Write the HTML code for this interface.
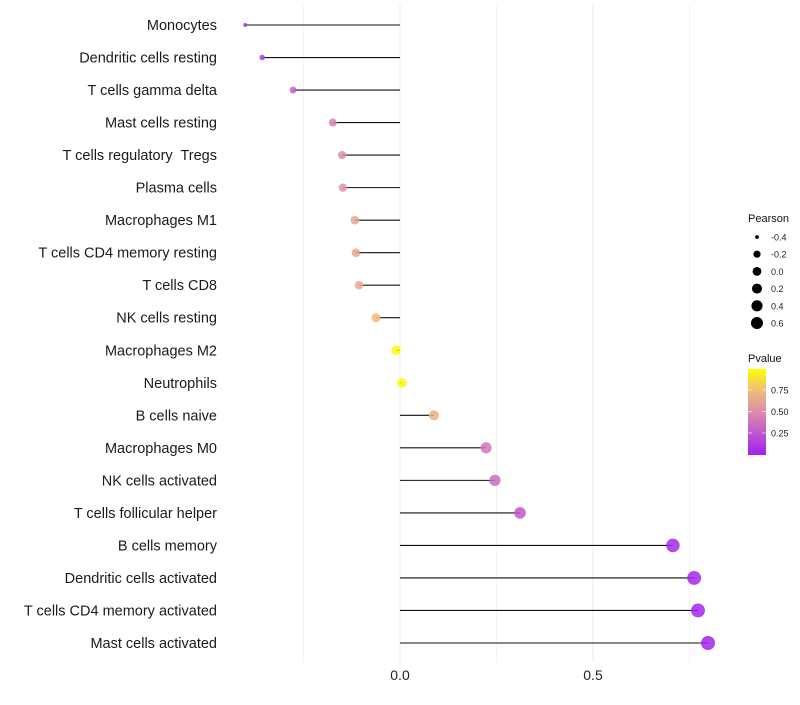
<!DOCTYPE html>
<html><head><meta charset="utf-8"><style>
body{margin:0;background:#fff;font-family:"Liberation Sans",sans-serif}
</style></head><body>
<svg id="c" width="800" height="700" xmlns="http://www.w3.org/2000/svg"></svg>
<script>
const categories=["Monocytes","Dendritic cells resting","T cells gamma delta","Mast cells resting","T cells regulatory  Tregs","Plasma cells","Macrophages M1","T cells CD4 memory resting","T cells CD8","NK cells resting","Macrophages M2","Neutrophils","B cells naive","Macrophages M0","NK cells activated","T cells follicular helper","B cells memory","Dendritic cells activated","T cells CD4 memory activated","Mast cells activated"];
const pearson=[-0.401,-0.357,-0.277,-0.174,-0.150,-0.148,-0.117,-0.114,-0.106,-0.062,-0.010,0.005,0.088,0.223,0.246,0.311,0.707,0.762,0.772,0.798];
const pvalue=[0.08,0.12,0.30,0.45,0.52,0.53,0.62,0.62,0.66,0.75,0.98,0.99,0.70,0.40,0.35,0.25,0.05,0.03,0.03,0.02];
const xTicks=[0,0.5];
const xTickLabels=["0.0","0.5"];
const sizeLegend=[-0.4,-0.2,0.0,0.2,0.4,0.6];
const colorTicks=[0.25,0.5,0.75];
const svg=document.getElementById('c');const NS="http://www.w3.org/2000/svg";
function el(t,a,p){const e=document.createElementNS(NS,t);for(const k in a)e.setAttribute(k,a[k]);(p||svg).appendChild(e);return e;}
const X=v=>400+v*386;
const Y=i=>25+i*(618/19);
const R=v=>1.7+5.3*Math.sqrt(Math.max(0,v+0.405)/1.2);
function col(p){const s=[[0,[160,32,240]],[0.5,[222,140,170]],[0.75,[238,190,120]],[1,[255,255,0]]];let k=0;while(k<s.length-2&&p>s[k+1][0])k++;const a=s[k],b=s[k+1];const t=Math.min(1,Math.max(0,(p-a[0])/(b[0]-a[0])));const c=a[1].map((x,i)=>Math.round(x+(b[1][i]-x)*t));return `rgb(${c})`;}
[-0.25,0,0.25,0.5,0.75].forEach(v=>{const g=el('line',{x1:X(v),x2:X(v),y1:5,y2:662,stroke:Math.abs(v*4)%2===0?'#ebebeb':'#f4f4f4','stroke-width':1});
});
xTicks.forEach((v,i)=>{const t=el('text',{x:X(v),y:680,'text-anchor':'middle','font-size':14,fill:'#222'});t.textContent=xTickLabels[i];
});
categories.forEach((c,i)=>{
const t=el('text',{x:217,y:Y(i)+5,'text-anchor':'end','font-size':14.5,fill:'#1a1a1a'});t.textContent=c;t.style.whiteSpace='pre';

const l=el('line',{x1:X(0),x2:X(pearson[i]),y1:Y(i),y2:Y(i),stroke:'#111','stroke-width':1.1});

const d=el('circle',{cx:X(pearson[i]),cy:Y(i),r:R(pearson[i]),fill:col(pvalue[i]),'fill-opacity':0.85});

});
let t=el('text',{x:748,y:222,'font-size':11,fill:'#111'});t.textContent="Pearson";

sizeLegend.forEach((v,i)=>{const y=237+i*17.2;const c=el('circle',{cx:757,cy:y,r:R(v)*0.92,fill:'#000'});

const s=el('text',{x:771,y:y+3.5,'font-size':9,fill:'#222'});s.textContent=v.toFixed(1);
});
t=el('text',{x:748,y:362,'font-size':11,fill:'#111'});t.textContent="Pvalue";

const defs=el('defs',{});const lg=el('linearGradient',{id:'g',x1:0,y1:1,x2:0,y2:0},defs);
[0,0.25,0.5,0.75,1].forEach(o=>el('stop',{offset:o,'stop-color':col(o)},lg));
const cb=el('rect',{x:748,y:369,width:18,height:86,fill:'url(#g)'});

colorTicks.forEach(v=>{const y=454.5-v*86;el('line',{x1:748,x2:752,y1:y,y2:y,stroke:'#fff','stroke-opacity':0.6});el('line',{x1:762,x2:766,y1:y,y2:y,stroke:'#fff','stroke-opacity':0.6});
const s=el('text',{x:771,y:y+3.5,'font-size':9,fill:'#222'});s.textContent=v.toFixed(2);
});
</script>
</body></html>
